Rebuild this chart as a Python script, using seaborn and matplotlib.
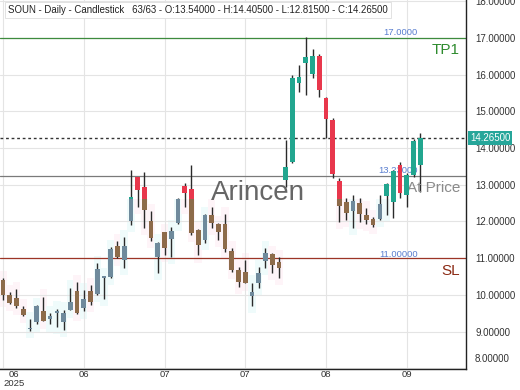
import numpy as np
import pandas as pd
import matplotlib
matplotlib.use("Agg")
import matplotlib.pyplot as plt
import matplotlib.transforms as mtransforms
from matplotlib.patches import Rectangle
import seaborn as sns

# ---------------- data ----------------
opens = [10.40, 10.00, 9.92, 9.61, 9.08, 9.26, 9.55, 9.35, 9.50, 9.26,
         9.60, 10.10, 9.65, 10.10, 10.03, 10.47, 10.50, 11.33, 10.95, 12.00,
         13.21, 12.95, 12.00, 11.03, 11.70, 11.53, 11.96, 12.98, 12.88, 11.77,
         11.50, 12.18, 11.93, 11.93, 11.20, 10.68, 10.62, 9.97, 10.33, 10.93,
         11.11, 10.90, 13.13, 13.62, 15.77, 16.32, 16.02, 16.51, 15.37, 14.77,
         13.10, 12.53, 12.29, 12.50, 12.18, 12.07, 12.07, 12.70, 12.53, 13.54,
         12.72, 13.27, 13.54]
highs = [10.45, 10.08, 10.16, 9.70, 9.34, 9.72, 9.95, 9.50, 9.62, 9.60,
         10.20, 10.35, 10.13, 10.27, 10.87, 10.52, 11.30, 11.47, 11.58, 13.40,
         13.22, 13.35, 12.28, 11.45, 11.72, 11.85, 12.63, 13.05, 13.55, 11.79,
         12.20, 12.40, 11.95, 12.20, 11.28, 10.76, 10.95, 10.33, 10.76, 11.28,
         11.14, 11.03, 14.22, 16.00, 16.26, 17.03, 16.70, 16.56, 15.39, 14.82,
         13.19, 12.64, 12.72, 12.64, 12.37, 12.12, 12.72, 13.04, 13.40, 13.62,
         13.32, 14.25, 14.405]
lows = [9.87, 9.75, 9.64, 9.42, 9.02, 9.20, 9.28, 9.20, 9.13, 9.05,
        9.58, 9.48, 9.55, 9.73, 10.00, 9.90, 10.46, 11.00, 10.73, 11.90,
        12.40, 11.82, 11.47, 10.60, 11.10, 11.03, 11.93, 12.40, 11.63, 11.08,
        11.42, 11.82, 11.50, 11.17, 10.62, 10.22, 10.31, 9.70, 10.19, 10.73,
        10.60, 10.46, 12.94, 13.60, 15.53, 15.45, 15.91, 15.39, 14.28, 13.19,
        11.99, 12.04, 11.82, 11.99, 11.93, 11.85, 12.05, 12.18, 12.10, 12.64,
        12.40, 13.21, 12.815]
closes = [10.00, 9.78, 9.70, 9.45, 9.11, 9.70, 9.30, 9.42, 9.55, 9.50,
          9.80, 9.50, 9.90, 9.80, 10.70, 10.52, 11.25, 11.03, 11.33, 12.68,
          12.86, 12.30, 11.55, 11.42, 11.28, 11.75, 12.62, 12.78, 11.68, 11.36,
          12.18, 11.96, 11.70, 11.25, 10.68, 10.35, 10.33, 10.08, 10.60, 11.14,
          10.82, 10.73, 13.49, 15.91, 15.94, 16.48, 16.51, 15.58, 14.79, 13.30,
          12.42, 12.23, 12.56, 12.20, 12.04, 11.90, 12.48, 13.02, 13.38, 12.78,
          13.27, 14.19, 14.265]
tick_idx = [0, 12, 24, 36, 48, 60]
tick_labels = ["06\n2025", "06", "07", "07", "08", "09"]
price_ticks = [8, 9, 10, 11, 12, 13, 14, 15, 16, 17, 18]
tp_level = 17.0
sl_level = 11.0
entry_level = 13.23
last_price = 14.265
title = ("SOUN - Daily - Candlestick   63/63 - O:13.54000 - H:14.40500 - "
         "L:12.81500 - C:14.26500")

# muted region (older bars below this price are drawn in faded colours)
muted_last_idx = 57
muted_level = 12.6

# ---------------- style ----------------
sns.set_theme(style="white")
plt.rcParams["font.family"] = ["Liberation Sans", "DejaVu Sans"]

UP, DOWN = "#22a68f", "#e8374c"
UP_M, DOWN_M = "#6f8a9c", "#8d6b4a"
BG_UP, BG_DOWN = "#effbfb", "#fef4f8"

df = pd.DataFrame({"i": np.arange(len(opens)), "open": opens, "high": highs,
                   "low": lows, "close": closes})
df["up"] = df["close"] >= df["open"]
df["bot"] = df[["open", "close"]].min(axis=1)
df["top"] = df[["open", "close"]].max(axis=1)
df["h"] = (df["top"] - df["bot"]).clip(lower=0.03)

fig = plt.figure(figsize=(5.2, 3.9), dpi=100)
ax = fig.add_axes([0, 21 / 390, 466 / 520, 369 / 390])

ax.set_xlim(-0.45, 68.8)
ax.set_ylim(7.98, 18.035)

# faint background boxes behind old bars
for r in df.itertuples():
    if r.i <= muted_last_idx and r.low < muted_level:
        top = min(r.high + 0.2, muted_level)
        ax.add_patch(Rectangle((r.i - 0.55, r.low - 0.2), 1.1, top - (r.low - 0.2),
                               color=BG_UP if r.up else BG_DOWN, lw=0, zorder=0.5))

# level lines
ax.axhline(tp_level, color="#3d8b3d", lw=0.9, zorder=2)
ax.axhline(sl_level, color="#9c3526", lw=0.9, zorder=2)
ax.axhline(entry_level, color="#7a7a7a", lw=0.9, zorder=2)
ax.axhline(last_price, color="#333333", lw=1.0, ls=(0, (2, 2)), zorder=2)

# watermark
ax.text(37.9, 12.78, "Arincen", fontsize=20, color="#555555", alpha=0.9,
        ha="center", va="center", zorder=2.5)

# candles
ax.vlines(df["i"], df["low"], df["high"], color="#2a2a2a", lw=1.0, zorder=3)
ax.bar(df["i"], df["h"], bottom=df["bot"], width=0.7,
       color=np.where(df["up"], UP, DOWN), lw=0, zorder=4)
m = df[(df["i"] <= muted_last_idx) & (df["bot"] < muted_level)].copy()
m["mt"] = m["top"].clip(upper=muted_level)
m["mh"] = (m["mt"] - m["bot"]).clip(lower=0.03)
ax.bar(m["i"], m["mh"], bottom=m["bot"], width=0.7,
       color=np.where(m["up"], UP_M, DOWN_M), lw=0, zorder=4.5)

# axes styling
ax.yaxis.tick_right()
ax.set_yticks(price_ticks)
ax.set_yticklabels(["" if p == 8 else f"{p:.5f}" for p in price_ticks])
ax.set_xticks(tick_idx)
ax.set_xticklabels(tick_labels)
ax.tick_params(axis="y", labelsize=7, colors="#333333", length=0, pad=7)
ax.tick_params(axis="x", labelsize=6.8, colors="#333333", length=0, pad=1)
for lab in ax.get_xticklabels():
    lab.set_linespacing(0.95)
xl = ax.get_xticklabels()[0]
xl.set_ha("left")
xl.set_multialignment("center")
ax.grid(True, color="#e4e4e4", lw=0.8, zorder=0)
ax.set_axisbelow(True)
for s in ["top", "left"]:
    ax.spines[s].set_visible(False)
for s in ["right", "bottom"]:
    ax.spines[s].set_color("#222222")
    ax.spines[s].set_linewidth(1.0)

yt = ax.get_yaxis_transform()
off = mtransforms.ScaledTranslation(0, 6.5 / 72, fig.dpi_scale_trans)
ax.text(1.0 + 9 / 466, 8.0, "8.00000", transform=yt + off, fontsize=7,
        color="#333333", ha="left", va="center", clip_on=False)

# current price tag
ax.text(1.0 + 4 / 466, last_price, "14.26500", transform=yt, fontsize=7,
        color="white", ha="left", va="center", clip_on=False, zorder=10,
        bbox=dict(boxstyle="square,pad=0.2", fc="#26a69a", ec="none"))

# level annotations
ax.text(418 / 466, 17.14, "17.0000", transform=yt, fontsize=6.8,
        color="#5a7fd0", ha="right", va="center", zorder=2.6)
ax.text(418 / 466, 11.11, "11.00000", transform=yt, fontsize=6.8,
        color="#5a7fd0", ha="right", va="center", zorder=2.6)
ax.text(418 / 466, 13.40, "13.23000", transform=yt, fontsize=6.8,
        color="#5a7fd0", ha="right", va="center", zorder=2.6)
ax.text(460 / 466, 16.68, "TP1", transform=yt, fontsize=11,
        color="#2e8b2e", ha="right", va="center")
ax.text(460 / 466, 10.65, "SL", transform=yt, fontsize=11,
        color="#8b2a14", ha="right", va="center")
ax.text(460 / 466, 12.91, "At Price", transform=yt, fontsize=11,
        color="#8a8a8a", ha="right", va="center")

# title
ax.text(8 / 466, 1 - 10 / 369, title, transform=ax.transAxes, fontsize=6.9,
        color="#222222", ha="left", va="center", zorder=11,
        bbox=dict(boxstyle="square,pad=0.3", fc="white", ec="#dddddd", lw=0.6))

fig.savefig("out.png", dpi=100)
